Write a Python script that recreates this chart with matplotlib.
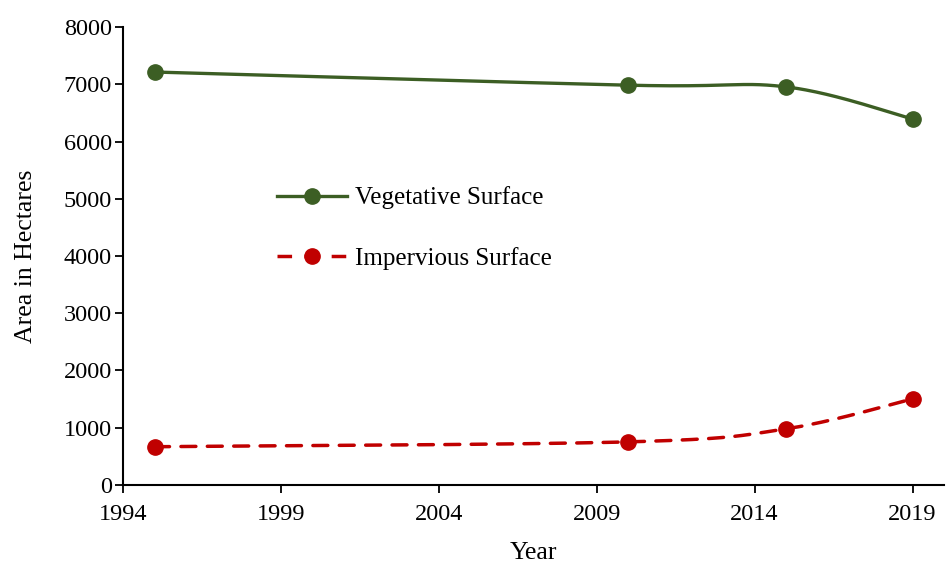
##  Area change: vegetative vs impervious surface  ##
import numpy as np
import matplotlib
matplotlib.use('Agg')
import matplotlib.pyplot as plt

##  Data  ##
years = [1995, 2010, 2015, 2019]
vegetative = [7215, 6985, 6955, 6395]
impervious = [665, 750, 978, 1500]
xticks = [1994, 1999, 2004, 2009, 2014, 2019]
yticks = [0, 1000, 2000, 3000, 4000, 5000, 6000, 7000, 8000]


def smooth(x, y, n=60):
    # Excel-like smoothed line (Catmull-Rom through the points)
    x = np.asarray(x, float)
    y = np.asarray(y, float)
    px = np.concatenate([[x[0]], x, [x[-1]]])
    py = np.concatenate([[y[0]], y, [y[-1]]])
    xs, ys = [], []
    t = np.linspace(0, 1, n)
    for i in range(1, len(px) - 2):
        p0 = np.array([px[i], py[i]])
        p3 = np.array([px[i + 1], py[i + 1]])
        p1 = p0 + (np.array([px[i + 1], py[i + 1]]) - np.array([px[i - 1], py[i - 1]])) / 6
        p2 = p3 - (np.array([px[i + 2], py[i + 2]]) - np.array([px[i], py[i]])) / 6
        b = ((1 - t) ** 3)[:, None] * p0 + (3 * (1 - t) ** 2 * t)[:, None] * p1 \
            + (3 * (1 - t) * t ** 2)[:, None] * p2 + (t ** 3)[:, None] * p3
        xs.extend(b[:, 0])
        ys.extend(b[:, 1])
    return xs, ys


plt.rcParams['font.family'] = ['Liberation Serif', 'DejaVu Serif']

fig = plt.figure(figsize=(9.46, 5.65), dpi=100)
ax = fig.add_axes([0.130, 0.142, 0.868, 0.810])

green = '#3C5E24'
red = '#C00000'

sx, sy = smooth(years, vegetative)
ax.plot(sx, sy, color=green, lw=2.4, solid_capstyle='round')
ax.plot(years, vegetative, 'o', color=green, ms=11)

sx, sy = smooth(years, impervious)
ax.plot(sx, sy, color=red, lw=2.5, dashes=(4.3, 3.3), dash_capstyle='round')
ax.plot(years, impervious, 'o', color=red, ms=11)

# legend proxies
l1, = ax.plot([], [], color=green, lw=2.4, marker='o', ms=11)
l2, = ax.plot([], [], color=red, lw=2.5, marker='o', ms=11, dashes=(4.2, 3.6))
ax.legend([l1, l2], ['Vegetative Surface', 'Impervious Surface'],
          loc='center left', bbox_to_anchor=(0.188, 0.561), frameon=False,
          borderpad=0, borderaxespad=0,
          fontsize=18, handlelength=2.8, handletextpad=0.3, labelspacing=1.5)

##  Axes  ##
ax.set_xlim(1994, 2020)
ax.set_ylim(0, 8000)
ax.set_xticks(xticks)
ax.set_yticks(yticks)
ax.tick_params(labelsize=17.5, width=1.3, length=6, direction='out', color='black')
ax.tick_params(axis='x', pad=8)
ax.tick_params(axis='y', pad=2)
ax.spines['top'].set_visible(False)
ax.spines['right'].set_visible(False)
ax.spines['left'].set_linewidth(1.5)
ax.spines['bottom'].set_linewidth(1.5)
ax.set_xlabel('Year', fontsize=18.5, labelpad=12)
ax.set_ylabel('Area in Hectares', fontsize=18.5, labelpad=19)

plt.savefig('out.png', dpi=100)
